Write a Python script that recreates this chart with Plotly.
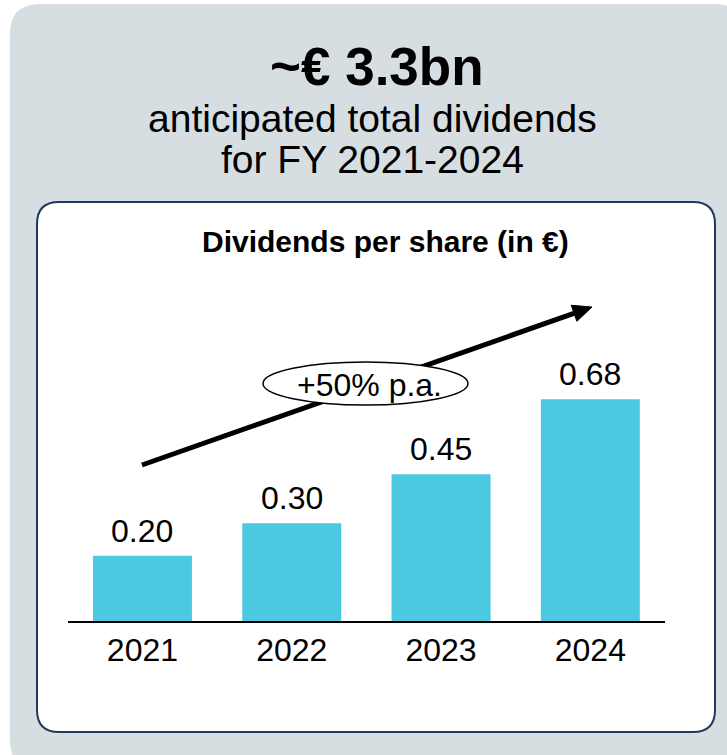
import numpy as np
import plotly.graph_objects as go

# Dividends per share (EUR)
years = ["2021", "2022", "2023", "2024"]
dividends = [0.20, 0.30, 0.45, 0.68]

headline = "~€ 3.3bn"
subtitle = ["anticipated total dividends", "for FY 2021-2024"]
chart_title = "Dividends per share (in €)"
growth_label = "+50% p.a."

W, H = 727, 755
FONT = "Liberation Sans, Arial, sans-serif"
BAR_COLOR = "#4BC9E1"
PANEL_GREY = "#D6DEE2"
BOX_BORDER = "#1E3A5C"


def px(x):
    return x / W


def py(y):
    return 1 - y / H


def rounded_rect(x0, y0, x1, y1, r):
    """SVG path (paper coords) for a rounded rectangle given in pixels."""
    pts = [
        f"M {px(x0 + r)} {py(y0)}",
        f"L {px(x1 - r)} {py(y0)}",
        f"Q {px(x1)} {py(y0)} {px(x1)} {py(y0 + r)}",
        f"L {px(x1)} {py(y1 - r)}",
        f"Q {px(x1)} {py(y1)} {px(x1 - r)} {py(y1)}",
        f"L {px(x0 + r)} {py(y1)}",
        f"Q {px(x0)} {py(y1)} {px(x0)} {py(y1 - r)}",
        f"L {px(x0)} {py(y0 + r)}",
        f"Q {px(x0)} {py(y0)} {px(x0 + r)} {py(y0)}",
        "Z",
    ]
    return " ".join(pts)


fig = go.Figure(
    go.Bar(
        x=years,
        y=dividends,
        marker=dict(color=BAR_COLOR, line=dict(width=0)),
        hoverinfo="skip",
    )
)

shapes = [
    # grey outer panel
    dict(type="path", xref="paper", yref="paper",
         path=rounded_rect(10, 4, 745, 770, 30),
         fillcolor=PANEL_GREY, line=dict(width=0), layer="below"),
    # white chart card
    dict(type="path", xref="paper", yref="paper",
         path=rounded_rect(37, 202, 715, 732, 22),
         fillcolor="white", line=dict(color=BOX_BORDER, width=2), layer="below"),
]

# growth arrow
start = np.array([142.0, 465.0])
tip = np.array([592.0, 307.0])
u = (tip - start) / np.linalg.norm(tip - start)
n = np.array([-u[1], u[0]])
head_len, head_half = 19.0, 8.5
base = tip - head_len * u
c1, c2 = base + head_half * n, base - head_half * n
shapes.append(dict(type="line", xref="paper", yref="paper",
                   x0=px(start[0]), y0=py(start[1]),
                   x1=px(base[0] + 2 * u[0]), y1=py(base[1] + 2 * u[1]),
                   line=dict(color="black", width=5)))
shapes.append(dict(type="path", xref="paper", yref="paper",
                   path=f"M {px(tip[0])} {py(tip[1])} L {px(c1[0])} {py(c1[1])} "
                        f"L {px(c2[0])} {py(c2[1])} Z",
                   fillcolor="black", line=dict(color="black", width=1)))
# ellipse label
shapes.append(dict(type="circle", xref="paper", yref="paper",
                   x0=px(263), x1=px(468), y0=py(405), y1=py(362),
                   fillcolor="white", line=dict(color="black", width=1.5)))


def paper_text(text, x, y, size):
    return dict(text=text, x=px(x), y=py(y), xref="paper", yref="paper",
                xanchor="center", yanchor="middle", showarrow=False,
                font=dict(size=size, color="black", family=FONT))


annotations = [
    paper_text(f"<b>{headline}</b>", 377, 66, 53),
    paper_text(subtitle[0], 372, 119, 39),
    paper_text(subtitle[1], 372, 159, 39),
    paper_text(f"<b>{chart_title}</b>", 385, 242, 30),
    paper_text(growth_label, 369, 385, 32),
]

# value labels above the bars
for i, v in enumerate(dividends):
    annotations.append(dict(text=f"{v:.2f}", x=i, y=v, xref="x", yref="y",
                            xanchor="center", yanchor="bottom", yshift=5,
                            showarrow=False,
                            font=dict(size=32, color="black", family=FONT)))

fig.update_layout(
    width=W, height=H,
    margin=dict(l=0, r=0, t=0, b=0),
    paper_bgcolor="white",
    plot_bgcolor="rgba(0,0,0,0)",
    bargap=0.337,
    showlegend=False,
    shapes=shapes,
    annotations=annotations,
    xaxis=dict(type="category", domain=[px(67.8), px(665.0)], range=[-0.5, 3.5],
               showline=True, linecolor="black", linewidth=2,
               ticks="", showgrid=False, zeroline=False,
               tickfont=dict(size=32, color="black", family=FONT),
               anchor="y"),
    yaxis=dict(domain=[py(621), py(621 - 1.2 * 326)], range=[0, 1.2],
               visible=False, showgrid=False, zeroline=False),
    font=dict(family=FONT),
)

fig.write_html("out.html")
